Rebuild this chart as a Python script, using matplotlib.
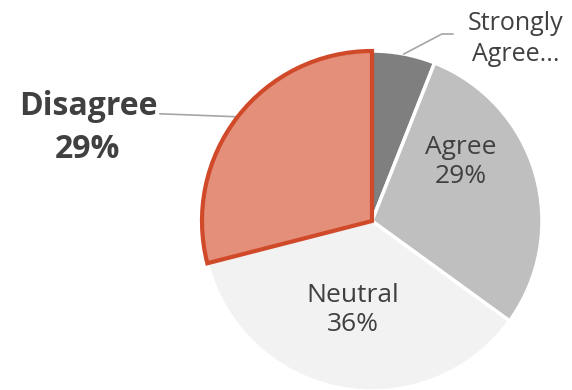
import numpy as np
import matplotlib.pyplot as plt

# -------------------- Data --------------------
labels = ['Strongly\nAgree...', 'Agree', 'Neutral', 'Disagree']
shares = [6, 29, 36, 29]
colors = ['#7f7f7f', '#bfbfbf', '#f2f2f2', '#e38f7a']
# ----------------------------------------------

plt.rcParams['font.family'] = ['Open Sans', 'DejaVu Sans']
text_color = '#404040'

fig = plt.figure(figsize=(5.72, 3.9), dpi=100)
ax = fig.add_axes([0, 0, 1, 1])

cx, cy, r = 372, 169, 170
wedges, _ = ax.pie(shares, colors=colors, startangle=90, counterclock=False,
                   center=(cx, cy), radius=r, frame=True,
                   wedgeprops=dict(edgecolor='white', linewidth=2.5))
ax.set_xlim(0, 572)
ax.set_ylim(0, 390)
ax.set_aspect('equal')
ax.axis('off')

# highlighted slice
wedges[3].set_edgecolor('#d04a2a')
wedges[3].set_linewidth(3)
wedges[3].set_zorder(3)

def mid_angle(w):
    return np.deg2rad((w.theta1 + w.theta2) / 2)

# labels inside the pie
inside_pos = {1: (461, 228), 2: (353, 80)}
for i, (tx, ty) in inside_pos.items():
    ax.text(tx, ty, '%s\n%d%%' % (labels[i], shares[i]), ha='center', va='center',
            fontsize=19, color=text_color, linespacing=1.2)

# Strongly Agree with leader line
a = mid_angle(wedges[0])
x0, y0 = cx + r * np.cos(a), cy + r * np.sin(a)
ax.plot([x0, x0 + 38, x0 + 49], [y0, y0 + 20, y0 + 20], color='#a6a6a6', lw=1.2)
ax.text(516, 351, labels[0], ha='center', va='center', fontsize=18,
        color=text_color, linespacing=1.35)

# Disagree with leader line
a = mid_angle(wedges[3])
x0, y0 = cx + r * np.cos(a), cy + r * np.sin(a)
ax.plot([x0, 160], [y0, y0 + 3], color='#a6a6a6', lw=1.2)
ax.text(88, 262, '%s\n%d%%' % (labels[3], shares[3]), ha='center', va='center',
        fontsize=23, fontweight='bold', color=text_color, linespacing=1.4)

fig.savefig('out.png', dpi=100)
